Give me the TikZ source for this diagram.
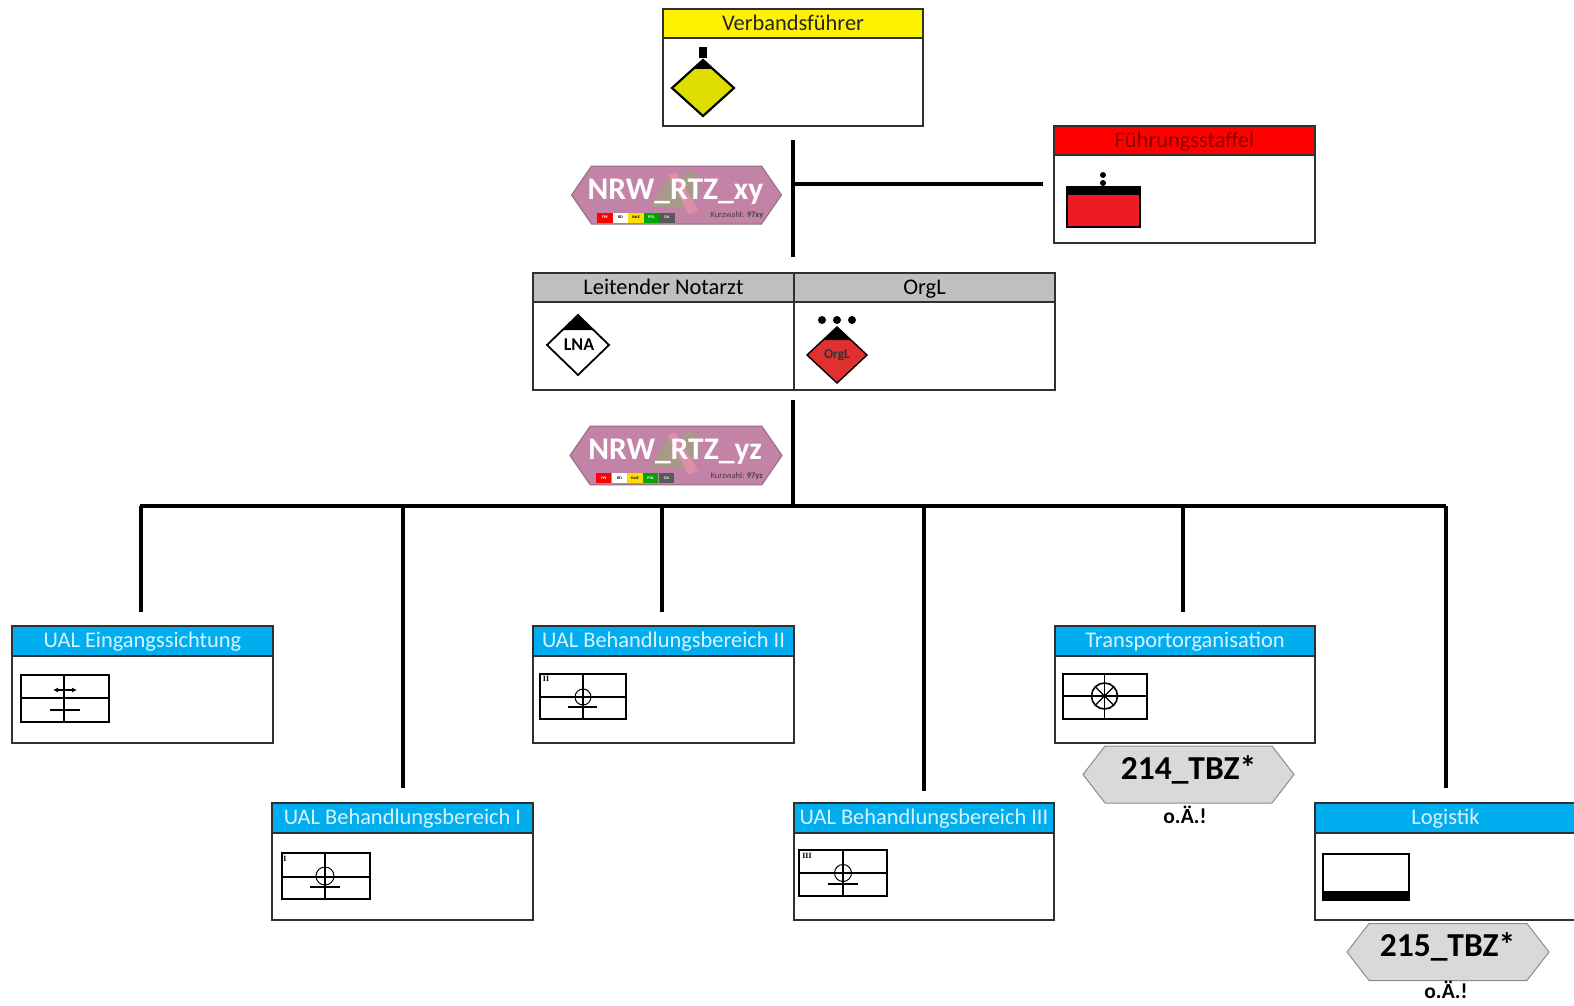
\documentclass[tikz,border=0pt]{standalone}
\usepackage{fontspec}
\setmainfont{Carlito}
\newfontfamily\symserif{Liberation Serif}
\usetikzlibrary{arrows.meta}
\definecolor{hdrblue}{HTML}{00ADEF}
\definecolor{hdrgrey}{HTML}{BFBFBF}
\definecolor{hexpink}{HTML}{C383A6}
\definecolor{hexedge}{HTML}{8E6E80}
\definecolor{maptan}{HTML}{A89A88}
\definecolor{mapband}{HTML}{DC8FA8}
\definecolor{greyhex}{HTML}{D9D9D9}
\definecolor{symyellow}{HTML}{DDDD00}
\definecolor{symred}{HTML}{ED1C24}
\definecolor{orgred}{HTML}{E03030}
\definecolor{edge}{HTML}{303030}
\tikzset{
  bodybox/.style={draw=edge,fill=white,line width=2pt,minimum width=260.5pt,minimum height=117pt,inner sep=0pt,anchor=north},
  headbox/.style={draw=edge,line width=2pt,minimum width=260.5pt,minimum height=29.5pt,inner sep=0pt,anchor=north,font=\fontsize{22.4}{24}\selectfont,text height=16pt,text depth=2pt},
  conn/.style={line width=4pt,black},
  sym/.style={draw=black,line width=2.2pt,fill=white},
  symthin/.style={draw=black,line width=1.6pt},
  symbar/.style={draw=black,line width=2.4pt},
  chip/.style={minimum width=15.4pt,minimum height=10pt,inner sep=0pt,font=\fontsize{4}{4}\selectfont\bfseries},
  hexlabel/.style={anchor=base,font=\fontsize{31.5}{33}\selectfont\bfseries,text=white,inner sep=0pt},
  kurz/.style={anchor=base east,font=\fontsize{8.5}{9}\selectfont,text=black!75,inner sep=0pt},
  tbzlabel/.style={anchor=base,font=\fontsize{33.5}{35}\selectfont\bfseries,inner sep=0pt},
  oae/.style={anchor=base,font=\fontsize{21.5}{23}\selectfont\bfseries,inner sep=0pt},
  rank/.style={font=\symserif\fontsize{8}{8}\selectfont\bfseries,inner sep=0pt},
}
% name, centre x, top y, fill, text colour, text
\newcommand\unitbox[6]{%
  \node[bodybox] (#1) at (#2,#3) {};
  \node[headbox,fill=#4,text=#5] (#1head) at (#2,#3) {#6};
}
% name, centre x, centre y, scale, label, short number
\newcommand\rtzhex[6]{%
  \begin{scope}[shift={(#2,#3)},scale=#4]
    \fill[hexpink,draw=hexedge,line width=1pt] (-105,0) -- (-85,-29) -- (85,-29) -- (105,0) -- (85,29) -- (-85,29) -- cycle;
    \fill[maptan] (-26,12) -- (-8,-18) -- (4,-14) -- (10,-24) -- (20,-21) -- (24,-6) -- (14,12) -- cycle;
    \fill[mapband] (-8,-20) -- (-1,-23) -- (22,15) -- (12,19) -- cycle;
    \node[chip,fill=red,text=white] (#1a) at (-71.5,22.5) {FW};
    \node[chip,fill=white,text=black] (#1b) at (-56,22.5) {RD};
    \node[chip,fill=yellow!80!orange,text=black] (#1c) at (-40.5,22.5) {KatS};
    \node[chip,fill=green!65!black,text=white] (#1d) at (-25,22.5) {POL};
    \node[chip,fill=black!65,text=white] (#1e) at (-9.5,22.5) {OA};
  \end{scope}
  \node[hexlabel] (#1label) at (#2-1,#3+4) {#5};
  \node[kurz] (#1kurz) at (#2+87,#3+22.5) {Kurzwahl: \textbf{#6}};
}
% grey hexagon: name, centre x, centre y, half width
\newcommand\tbzhex[4]{%
  \fill[greyhex,draw=black!45,line width=1pt] (#2-#4,#3) -- (#2-#4+22,#3-28.5) -- (#2+#4-22,#3-28.5) -- (#2+#4,#3) -- (#2+#4-22,#3+28.5) -- (#2-#4+22,#3+28.5) -- cycle;
}
\begin{document}
\begin{tikzpicture}[x=1pt,y=-1pt]
\clip (0,0) rectangle (1574,1006);
\fill[white] (0,0) rectangle (1574,1006);

% connector coordinates
\coordinate (t1) at (793,140);
\coordinate (b1) at (793,257);
\coordinate (m1) at (793,184);
\coordinate (fs) at (1043,184);
\coordinate (t2) at (793,400);
\coordinate (j) at (793,506);
\coordinate (hl) at (140,506);
\coordinate (hr) at (1445.5,506);
\coordinate (j1) at (403,506);
\coordinate (j2) at (661.5,506);
\coordinate (j3) at (923.5,506);
\coordinate (j4) at (1183,506);
\coordinate (d0) at (140.5,612);
\coordinate (d1) at (403,788);
\coordinate (d2) at (661.5,612);
\coordinate (d3) at (923.5,791);
\coordinate (d4) at (1183,612);
\coordinate (d5) at (1445.5,788);

\draw[conn] (t1) -- (b1);
\draw[conn] (m1) -- (fs);
\draw[conn] (t2) -- (j);
\draw[conn] (hl) -- (hr);
\draw[conn] (hl -| d0) -- (d0);
\draw[conn] (j1) -- (d1);
\draw[conn] (j2) -- (d2);
\draw[conn] (j3) -- (d3);
\draw[conn] (j4) -- (d4);
\draw[conn] (hr) -- (d5);

% boxes
\unitbox{vf}{793}{8}{yellow}{black!85}{Verbandsführer}
\unitbox{fst}{1184.5}{125}{red}{red!55!black}{Führungsstaffel}
\unitbox{lna}{663.5}{271.5}{hdrgrey}{black}{Leitender Notarzt}
\unitbox{org}{924.5}{271.5}{hdrgrey}{black}{OrgL}
\unitbox{ein}{142.5}{625}{hdrblue}{white!85!hdrblue}{UAL Eingangssichtung}
\unitbox{bb1}{402.5}{802}{hdrblue}{white!85!hdrblue}{UAL Behandlungsbereich I}
\unitbox{bb2}{663.5}{625}{hdrblue}{white!85!hdrblue}{UAL Behandlungsbereich II}
\unitbox{bb3}{924}{802}{hdrblue}{white!85!hdrblue}{UAL Behandlungsbereich III}
\unitbox{tra}{1185}{625}{hdrblue}{white!85!hdrblue}{Transportorganisation}
\unitbox{log}{1445.5}{802}{hdrblue}{white!85!hdrblue}{Logistik}

% Verbandsfuehrer symbol
\fill[black] (699,47) rectangle (707,58);
\draw[black,line width=2.2pt,fill=symyellow] (672,88) -- (703,60) -- (734,88) -- (703,116) -- cycle;
\fill[black] (703,60) -- (693,69) -- (713,69) -- cycle;

% Fuehrungsstaffel symbol
\fill[symred,draw=black,line width=1.8pt] (1067,187) rectangle (1140,227);
\fill[black] (1067,187) rectangle (1140,195);
\fill[black] (1103,175) circle (3);
\fill[black] (1103,183) circle (3);

% LNA symbol
\draw[black,line width=1.8pt,fill=white] (547,345) -- (578,315) -- (609,345) -- (578,375) -- cycle;
\fill[black] (578,315) -- (563,330) -- (593,330) -- cycle;
\node[font=\fontsize{18}{20}\selectfont\bfseries,inner sep=0pt] (lnatxt) at (579,345) {LNA};

% OrgL symbol
\draw[black,line width=1.4pt,fill=orgred] (807,355) -- (837,327) -- (867,355) -- (837,383) -- cycle;
\fill[black] (837,327) -- (823,340) -- (851,340) -- cycle;
\node[font=\fontsize{13.5}{15}\selectfont\bfseries,text=black!80,inner sep=0pt] (orgtxt) at (837,355) {OrgL};
\fill[black] (822,320) circle (4);
\fill[black] (837,320) circle (4);
\fill[black] (852,320) circle (4);

% hexagons
\rtzhex{hxa}{676.5}{195}{1}{NRW\_RTZ\_xy}{97xy}
\rtzhex{hxb}{676}{455.5}{1.01}{NRW\_RTZ\_yz}{97yz}

% Eingang symbol
\draw[sym] (21,675) rectangle (109,722);
\draw[symthin] (21,698) -- (109,698);
\draw[symthin] (64,675) -- (64,722);
\draw[{Latex[length=5pt,width=5pt]}-{Latex[length=5pt,width=5pt]},line width=1.4pt] (53,690) -- (77,690);
\draw[symbar] (50,710) -- (80,710);

% BB I symbol
\draw[sym] (282,853) rectangle (370,899);
\draw[symthin] (282,877) -- (370,877);
\draw[symthin] (325,853) -- (325,899);
\draw[black,line width=1pt] (325,876) circle (9);
\draw[symbar] (310,887) -- (340,887);
\node[rank] (r1) at (285,859) {I};

% BB II symbol
\draw[sym] (540,674) rectangle (626,719);
\draw[symthin] (540,697) -- (626,697);
\draw[symthin] (583,674) -- (583,719);
\draw[black,line width=1pt] (583,697) circle (8);
\draw[symbar] (568,707) -- (597,707);
\node[rank] (r2) at (546,679) {II};

% BB III symbol
\draw[sym] (799,850) rectangle (887,896);
\draw[symthin] (799,873) -- (887,873);
\draw[symthin] (843,850) -- (843,896);
\draw[black,line width=1pt] (843,873) circle (8.5);
\draw[symbar] (828,884) -- (858,884);
\node[rank] (r3) at (807,856) {III};

% Transport symbol
\draw[sym,line width=1.6pt] (1063,674) rectangle (1147,719);
\draw[symthin] (1063,696) -- (1147,696);
\draw[symthin] (1104.5,674) -- (1104.5,719);
\draw[black,line width=1.6pt] (1104.5,696) circle (13);
\draw[black,line width=1.2pt] (1095.3,686.8) -- (1113.7,705.2);
\draw[black,line width=1.2pt] (1095.3,705.2) -- (1113.7,686.8);

% Logistik symbol
\draw[sym] (1323,854) rectangle (1409,900);
\fill[black] (1323,891) rectangle (1409,900);

% grey hexagons
\tbzhex{h214}{1188.5}{774.5}{105.5}
\node[tbzlabel] (t214) at (1188.5,779) {214\_TBZ*};
\node[oae] (o214) at (1185,823) {o.Ä.!};
\tbzhex{h215}{1448}{952}{101}
\node[tbzlabel] (t215) at (1447.5,956.5) {215\_TBZ*};
\node[oae] (o215) at (1446,998) {o.Ä.!};
\end{tikzpicture}
\end{document}
